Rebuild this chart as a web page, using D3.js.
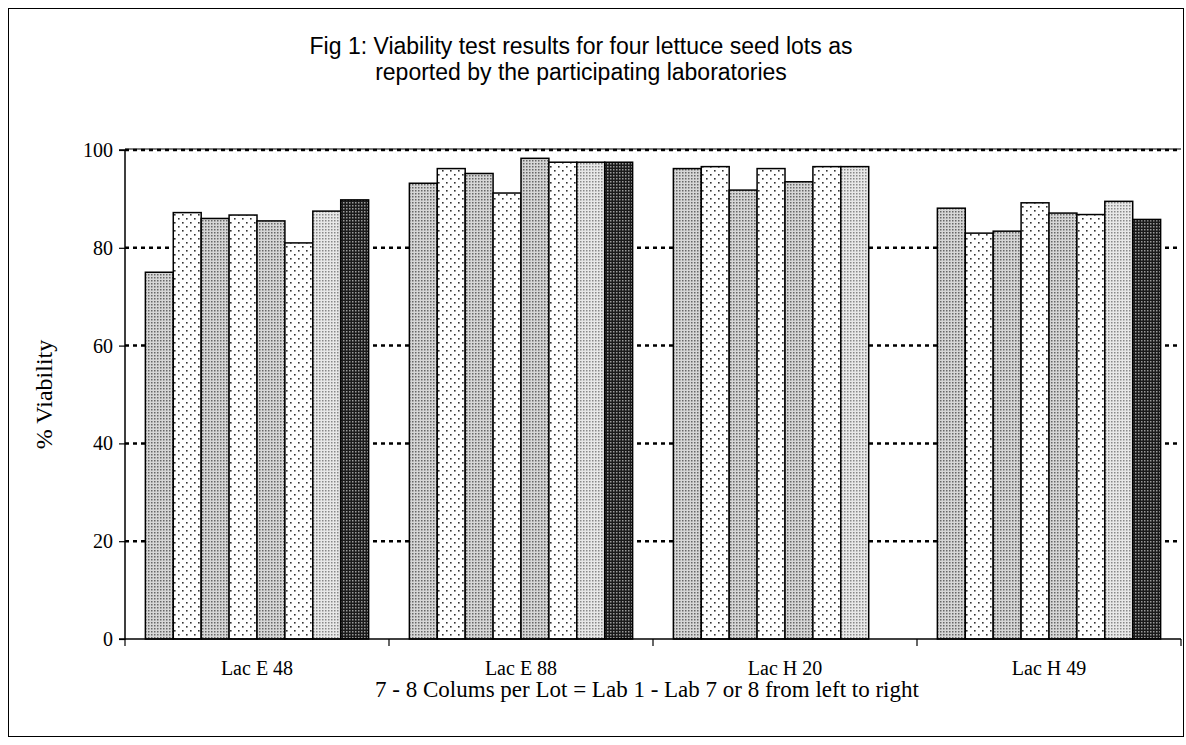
<!DOCTYPE html>
<html>
<head>
<meta charset="utf-8">
<script src="https://cdn.jsdelivr.net/npm/d3@7"></script>
<style>
  html, body { margin: 0; padding: 0; background: #fff; }
  svg { display: block; }
</style>
</head>
<body>
<svg id="chart" width="1186" height="745"></svg>
<script>
// ---- data ----
const lots = ["Lac E 48", "Lac E 88", "Lac H 20", "Lac H 49"];
const labs = ["Lab 1", "Lab 2", "Lab 3", "Lab 4", "Lab 5", "Lab 6", "Lab 7", "Lab 8"];
const lab1 = [75.0, 93.2, 96.2, 88.1];
const lab2 = [87.2, 96.2, 96.6, 83.0];
const lab3 = [86.0, 95.2, 91.8, 83.4];
const lab4 = [86.7, 91.2, 96.2, 89.2];
const lab5 = [85.5, 98.3, 93.5, 87.1];
const lab6 = [81.0, 97.5, 96.6, 86.8];
const lab7 = [87.5, 97.5, 96.6, 89.5];
const lab8 = [89.8, 97.5, null, 85.8];
const yTicks = [0, 20, 40, 60, 80, 100];
const titleLines = ["Fig 1: Viability test results for four lettuce seed lots as",
                    "reported by the participating laboratories"];
const yTitle = "% Viability";
const xTitle = "7 - 8 Colums per Lot = Lab 1 - Lab 7 or 8 from left to right";

const seriesValues = [lab1, lab2, lab3, lab4, lab5, lab6, lab7, lab8];
const patternIds = ["pDense", "pSparse", "pDense", "pSparse", "pDense", "pSparse", "pLight", "pDark"];

// ---- layout ----
const svg = d3.select("#chart");
const plot = { left: 125, right: 1181, top: 150, bottom: 639 };
const serif = "'Liberation Serif', 'Times New Roman', serif";
const sans = "'Liberation Sans', Arial, sans-serif";

// frame
svg.append("rect").attr("x", 8.5).attr("y", 8.5).attr("width", 1175).attr("height", 728)
  .attr("fill", "#fff").attr("stroke", "#000").attr("stroke-width", 1);

// patterns
const defs = svg.append("defs");
function dotPattern(id, size, bg, dots, dotColor, r) {
  const p = defs.append("pattern").attr("id", id).attr("patternUnits", "userSpaceOnUse")
    .attr("width", size).attr("height", size);
  p.append("rect").attr("width", size).attr("height", size).attr("fill", bg);
  dots.forEach(d => p.append("rect").attr("x", d[0]).attr("y", d[1])
    .attr("width", r).attr("height", r).attr("fill", dotColor));
}
dotPattern("pDense", 3, "#d6d6d6", [[1, 1]], "#666", 1.5);
dotPattern("pLight", 3, "#e8e8e8", [[1, 1]], "#888", 1.5);
dotPattern("pDark", 3, "#1a1a1a", [[1, 1]], "#9a9a9a", 1.5);
dotPattern("pSparse", 8, "#ffffff", [[2, 2], [6, 6]], "#333", 1.6);

// scales
const x0 = d3.scaleBand().domain(lots).range([plot.left, plot.right]).padding(0);
const x1 = d3.scaleBand().domain(labs).range([0, x0.bandwidth()]).paddingInner(0).paddingOuter(0.73);
const y = d3.scaleLinear().domain([0, 100]).range([plot.bottom, plot.top]);

// gridlines
const grid = svg.append("g");
grid.selectAll("line.g").data(yTicks.filter(t => t > 0)).join("line")
  .attr("x1", plot.left).attr("x2", plot.right)
  .attr("y1", d => y(d)).attr("y2", d => y(d))
  .attr("stroke", "#000").attr("stroke-width", 2.5).attr("stroke-dasharray", "4,4");
grid.append("line").attr("x1", plot.left).attr("x2", plot.right)
  .attr("y1", y(100) - 1).attr("y2", y(100) - 1)
  .attr("stroke", "#000").attr("stroke-width", 1.2);

// bars
const barData = [];
lots.forEach((lot, i) => {
  labs.forEach((lab, j) => {
    const v = seriesValues[j][i];
    if (v != null) barData.push({ lot, lab, v, pat: patternIds[j] });
  });
});
svg.append("g").selectAll("rect").data(barData).join("rect")
  .attr("x", d => x0(d.lot) + x1(d.lab))
  .attr("width", x1.bandwidth())
  .attr("y", d => y(d.v))
  .attr("height", d => y(0) - y(d.v))
  .attr("fill", d => `url(#${d.pat})`)
  .attr("stroke", "#000").attr("stroke-width", 1.5);

// axes
const yAxis = d3.axisLeft(y).tickValues(yTicks).tickSize(6).tickPadding(6).tickFormat(d3.format("d"));
const gy = svg.append("g").attr("transform", `translate(${plot.left},0)`).call(yAxis);
gy.select(".domain").attr("stroke-width", 1.5).attr("d", `M-6,${plot.top}H0V${plot.bottom}H-6`);
gy.selectAll(".tick line").attr("stroke-width", 1.2);
gy.selectAll("text").attr("font-family", serif).attr("font-size", 20).attr("fill", "#000");

const xAxis = d3.axisBottom(x0).tickSize(0).tickPadding(0);
const gx = svg.append("g").attr("transform", `translate(0,${plot.bottom})`).call(xAxis);
gx.select(".domain").attr("stroke-width", 1.5).attr("d", `M${plot.left},0H${plot.right}`);
gx.selectAll(".tick text").attr("font-family", serif)
  .attr("font-size", 20).attr("fill", "#000").attr("dy", 0).attr("y", 0)
  .attr("transform", "translate(0,36)");
// category boundary ticks
gx.append("g").selectAll("line").data(lots.map(l => x0(l)).concat([plot.right])).join("line")
  .attr("x1", d => d).attr("x2", d => d).attr("y1", 0).attr("y2", 7)
  .attr("stroke", "#000").attr("stroke-width", 1.2);

// titles
const title = svg.append("text").attr("x", 581).attr("text-anchor", "middle")
  .attr("font-family", sans).attr("font-size", 23).attr("fill", "#000");
titleLines.forEach((t, i) => title.append("tspan").attr("x", 581).attr("y", 54 + i * 26).text(t));

svg.append("text").attr("transform", `translate(52,${(plot.top + plot.bottom) / 2}) rotate(-90)`)
  .attr("text-anchor", "middle")
  .attr("font-family", serif).attr("font-size", 24)
  .text(yTitle);

svg.append("text").attr("x", 647).attr("y", 697).attr("text-anchor", "middle")
  .attr("font-family", serif).attr("font-size", 23)
  .text(xTitle);
</script>
</body>
</html>
